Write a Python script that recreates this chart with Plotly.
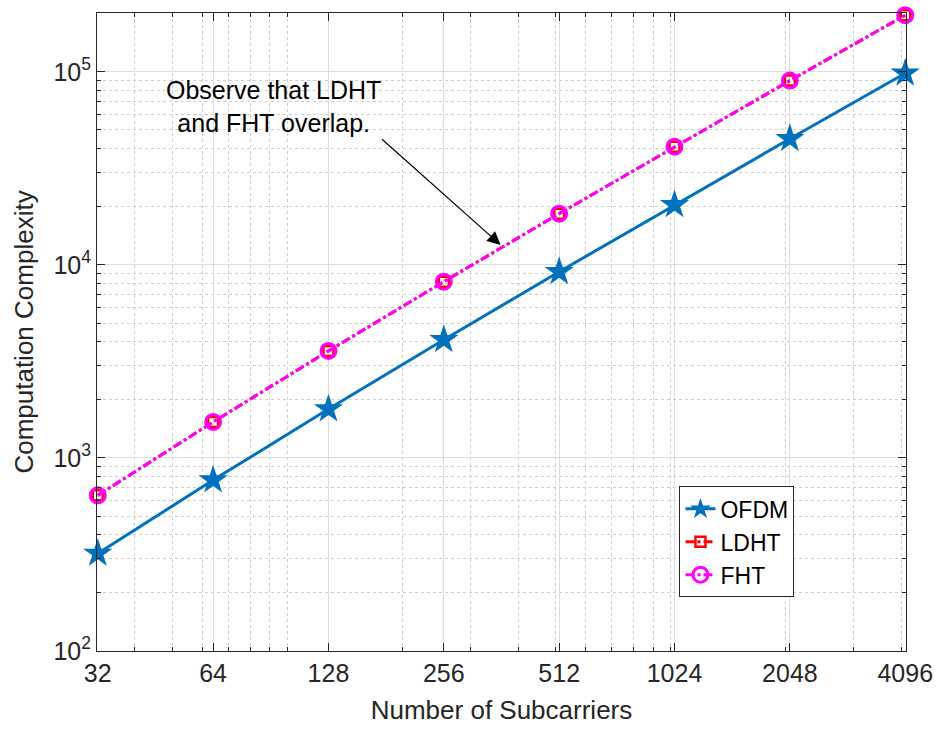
import plotly.graph_objects as go
import math

subcarriers = [32, 64, 128, 256, 512, 1024, 2048, 4096]
ofdm = [320, 768, 1792, 4096, 9216, 20480, 45056, 98304]
ldht = [640, 1536, 3584, 8192, 18432, 40960, 90112, 196608]
fht = [640, 1536, 3584, 8192, 18432, 40960, 90112, 196608]
x_ticks = [32, 64, 128, 256, 512, 1024, 2048, 4096]
x_minor = [40, 50, 60, 70, 80, 90, 100, 200, 300, 400, 500, 600, 700, 800, 900,
           1000, 2000, 3000, 4000]
y_ticks = [100, 1000, 10000, 100000]
y_ticklabels = ["10<sup>2</sup>", "10<sup>3</sup>", "10<sup>4</sup>", "10<sup>5</sup>"]
y_minor = [m * 10 ** e for e in range(2, 6) for m in range(2, 10) if m * 10 ** e <= 200000]

FONT = "Liberation Sans, Arial, Helvetica, sans-serif"
fig = go.Figure()
fig.add_trace(go.Scatter(x=subcarriers, y=ofdm, name="OFDM", mode="lines+markers",
                         line=dict(color="#0072BD", width=3),
                         marker=dict(symbol="star", size=22, color="#0072BD"),
                         cliponaxis=False))
fig.add_trace(go.Scatter(x=subcarriers, y=ldht, name="LDHT", mode="lines+markers",
                         line=dict(color="#FF0000", width=3, dash="dashdot"),
                         marker=dict(symbol="square-open", size=10, color="#FF0000",
                                     line=dict(width=2.5, color="#FF0000")),
                         cliponaxis=False))
fig.add_trace(go.Scatter(x=subcarriers, y=fht, name="FHT", mode="lines+markers",
                         line=dict(color="#FF00FF", width=3, dash="dashdot"),
                         marker=dict(symbol="circle-open", size=15, color="#FF00FF",
                                     line=dict(width=3, color="#FF00FF")),
                         cliponaxis=False))

fig.add_annotation(x=math.log10(360), y=math.log10(12700), xref="x", yref="y",
                   ax=-120, ay=-107, text="", showarrow=True, arrowhead=2,
                   arrowsize=2.2, arrowwidth=1.2, arrowcolor="black")
fig.add_annotation(x=0.2186, y=0.853, xref="paper", yref="paper",
                   xanchor="center", yanchor="middle",
                   text="Observe that LDHT<br>and FHT overlap.", showarrow=False,
                   font=dict(family=FONT, size=25, color="black"), align="center")

fig.update_layout(
    width=945, height=731,
    margin=dict(l=97, r=36, t=13, b=78),
    paper_bgcolor="white", plot_bgcolor="white",
    font=dict(family=FONT, size=26, color="#262626"),
    showlegend=True,
    legend=dict(x=0.72, y=0.258, xanchor="left", yanchor="top",
                bordercolor="#262626", borderwidth=1, bgcolor="white",
                font=dict(family=FONT, size=23, color="black"),
                tracegroupgap=0),
)
eps = 0.002
fig.update_xaxes(type="log", range=[math.log10(32) - eps, math.log10(4096) + eps],
                 tickmode="array", tickvals=x_ticks, ticktext=[str(v) for v in x_ticks],
                 tickfont=dict(size=25),
                 showgrid=True, gridcolor="#DCDCDC", gridwidth=1,
                 minor=dict(tickmode="array", tickvals=x_minor, showgrid=True,
                            gridcolor="#CFCFCF", griddash="dot", ticks="inside",
                            ticklen=4, tickcolor="#262626"),
                 showline=True, linecolor="#262626", linewidth=1, mirror="ticks",
                 ticks="inside", ticklen=8, tickcolor="#262626",
                 title=dict(text="Number of Subcarriers", font=dict(size=26, color="#262626"), standoff=14),
                 zeroline=False)
fig.update_yaxes(type="log", range=[2, 5.305],
                 tickmode="array", tickvals=y_ticks, ticktext=y_ticklabels,
                 tickfont=dict(size=25),
                 showgrid=True, gridcolor="#DCDCDC", gridwidth=1,
                 minor=dict(tickmode="array", tickvals=y_minor, showgrid=True,
                            gridcolor="#CFCFCF", griddash="dot", ticks="inside",
                            ticklen=4, tickcolor="#262626"),
                 showline=True, linecolor="#262626", linewidth=1, mirror="ticks",
                 ticks="inside", ticklen=8, tickcolor="#262626",
                 title=dict(text="Computation Complexity", font=dict(size=26, color="#262626"), standoff=12),
                 zeroline=False)
fig.write_html("out.html")
